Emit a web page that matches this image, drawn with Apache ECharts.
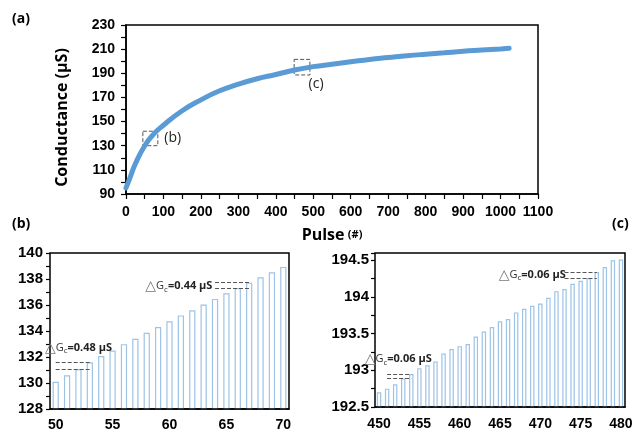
<!DOCTYPE html>
<html>
<head>
<meta charset="utf-8">
<script src="https://cdn.jsdelivr.net/npm/echarts@6/dist/echarts.min.js"></script>
<style>
  html, body { margin: 0; padding: 0; background: #fff; }
  #chart { width: 636px; height: 432px; }
</style>
</head>
<body>
<div id="chart"></div>
<script>
// (a) 全程曲线，读图估值
var pulseA = [0, 10, 25, 50, 75, 100, 150, 200, 250, 300, 350, 400, 450, 500, 550, 600, 650, 700, 750, 800, 850, 900, 950, 1000, 1023];
var condA = [95, 103, 115, 130, 140, 147, 159, 168, 175.5, 181, 185.5, 189, 192.7, 195.5, 197.5, 199.5, 201.5, 203, 204.5, 205.8, 207, 208.2, 209.2, 210.2, 210.7];

// (b) 50~70 脉冲
var pulseB = ['50', '51', '52', '53', '54', '55', '56', '57', '58', '59', '60', '61', '62', '63', '64', '65', '66', '67', '68', '69', '70'];
var condB = [130.1, 130.6, 131.07, 131.6, 132.07, 132.5, 132.99, 133.4, 133.86, 134.3, 134.75, 135.2, 135.6, 136.03, 136.47, 136.9, 137.3, 137.72, 138.13, 138.52, 138.93];

// (c) 450~480 脉冲
var pulseC = ['450', '451', '452', '453', '454', '455', '456', '457', '458', '459', '460', '461', '462', '463', '464', '465', '466', '467', '468', '469', '470', '471', '472', '473', '474', '475', '476', '477', '478', '479', '480'];
var condC = [192.7, 192.75, 192.81, 192.89, 192.95, 193.03, 193.07, 193.12, 193.23, 193.29, 193.33, 193.36, 193.46, 193.53, 193.59, 193.67, 193.7, 193.79, 193.84, 193.88, 193.91, 193.99, 194.08, 194.11, 194.18, 194.22, 194.26, 194.34, 194.41, 194.5, 194.51];

var chart = echarts.init(document.getElementById('chart'));

var tickFont = { fontFamily: 'Liberation Sans', fontWeight: 'bold', fontSize: 14, color: '#000' };
var boxLine = { lineStyle: { color: '#000', width: 1.5 } };
var gcRich = {
    t: { fontSize: 14, color: '#777', fontFamily: 'DejaVu Sans' },
    g: { fontSize: 11, color: '#333', fontFamily: 'Open Sans' },
    s: { fontSize: 8, color: '#333', fontFamily: 'Open Sans', verticalAlign: 'bottom', padding: [4, 0, 0, 0] },
    b: { fontSize: 11, color: '#222', fontWeight: 'bold', fontFamily: 'Open Sans' }
};
function gcLabel(txt) {
    return '{t|△}{g|G}{s|c}{b|=' + txt + ' µS}';
}
var dash = { type: 'dashed', color: '#555', width: 1 };
function plain(v) { return String(v); }

var option = {
    animation: false,
    backgroundColor: '#fff',
    graphic: [
        { type: 'text', left: 12, top: 12, style: { text: '(a)', font: 'bold 14px "Open Sans"', fill: '#000' } },
        { type: 'text', left: 12, top: 217, style: { text: '(b)', font: 'bold 14px "Open Sans"', fill: '#000' } },
        { type: 'text', left: 612, top: 217, style: { text: '(c)', font: 'bold 14px "Open Sans"', fill: '#000' } }
    ],
    grid: [
        { left: 126, right: 98, top: 25, bottom: 238, show: true, borderColor: '#000', borderWidth: 1.5 },
        { left: 50, right: 347, top: 253, bottom: 23, show: true, borderColor: '#000', borderWidth: 1.5 },
        { left: 375, right: 11, top: 253, bottom: 25, show: true, borderColor: '#000', borderWidth: 1.5 }
    ],
    xAxis: [
        {
            gridIndex: 0, type: 'value', min: 0, max: 1100, interval: 100,
            name: '{p|Pulse} {h|(#)}', nameLocation: 'middle', nameGap: 33,
            nameTextStyle: {
                rich: {
                    p: { fontFamily: 'Open Sans', fontWeight: 'bold', fontSize: 16, color: '#000' },
                    h: { fontFamily: 'Open Sans', fontWeight: 'bold', fontSize: 11, color: '#000' }
                }
            },
            axisLine: boxLine,
            axisTick: { show: true, length: 5, lineStyle: { color: '#000', width: 1.2 } },
            minorTick: { show: true, splitNumber: 2, length: 5, lineStyle: { color: '#000', width: 1.2 } },
            axisLabel: Object.assign({ margin: 11, formatter: plain }, tickFont),
            splitLine: { show: false }
        },
        {
            gridIndex: 1, type: 'category', data: pulseB, z: 5,
            axisLine: boxLine,
            axisTick: { show: false },
            axisLabel: Object.assign({ interval: 4, margin: 9 }, tickFont),
            splitLine: { show: false }
        },
        {
            gridIndex: 2, type: 'category', data: pulseC, z: 5,
            axisLine: boxLine,
            axisTick: { show: false },
            axisLabel: Object.assign({ interval: 4, margin: 10 }, tickFont),
            splitLine: { show: false }
        }
    ],
    yAxis: [
        {
            gridIndex: 0, type: 'value', min: 90, max: 230, interval: 20,
            name: 'Conductance (µS)', nameLocation: 'middle', nameGap: 56,
            nameTextStyle: { fontFamily: 'Open Sans', fontWeight: 'bold', fontSize: 16, color: '#000', padding: [0, 16, 0, 0] },
            axisLine: boxLine,
            axisTick: { show: true, length: 5, lineStyle: { color: '#000', width: 1.2 } },
            minorTick: { show: true, splitNumber: 2, length: 5, lineStyle: { color: '#000', width: 1.2 } },
            axisLabel: Object.assign({ margin: 11, formatter: plain }, tickFont),
            splitLine: { show: false }
        },
        {
            gridIndex: 1, type: 'value', min: 128, max: 140, interval: 2,
            axisLine: boxLine,
            axisTick: { show: true, length: 4, lineStyle: { color: '#000', width: 1.2 } },
            minorTick: { show: true, splitNumber: 2, length: 4, lineStyle: { color: '#000', width: 1.2 } },
            axisLabel: Object.assign({ margin: 7 }, tickFont, { fontSize: 15 }),
            splitLine: { show: false }
        },
        {
            gridIndex: 2, type: 'value', min: 192.5, max: 194.6, interval: 0.5,
            axisLine: boxLine,
            axisTick: { show: true, length: 4, lineStyle: { color: '#000', width: 1.2 } },
            minorTick: { show: true, splitNumber: 2, length: 4, lineStyle: { color: '#000', width: 1.2 } },
            axisLabel: Object.assign({ margin: 6, showMaxLabel: false }, tickFont, { fontSize: 15 }),
            splitLine: { show: false }
        }
    ],
    series: [
        {
            type: 'line', xAxisIndex: 0, yAxisIndex: 0,
            data: pulseA.map(function (p, i) { return [p, condA[i]]; }),
            smooth: true, showSymbol: false,
            lineStyle: { color: '#5b9bd5', width: 5, cap: 'round' },
            markArea: {
                silent: true,
                itemStyle: { color: 'rgba(0,0,0,0)', borderColor: '#555', borderWidth: 1, borderType: 'dashed' },
                label: { fontFamily: 'Open Sans', fontSize: 14, color: '#222' },
                data: [
                    [{ coord: [45, 142], label: { show: true, formatter: '(b)', position: 'right', distance: 6 } }, { coord: [85, 130] }],
                    [{ coord: [449, 201.5], label: { show: true, formatter: '(c)', position: 'bottom', distance: 2, offset: [14, 0] } }, { coord: [491, 188.6] }]
                ]
            }
        },
        {
            type: 'bar', xAxisIndex: 1, yAxisIndex: 1,
            data: condB, barWidth: '55%',
            itemStyle: { color: '#fff', borderColor: '#9dc3e6', borderWidth: 1.2 },
            markLine: {
                silent: true, symbol: 'none', label: { show: false },
                lineStyle: dash,
                data: [
                    [{ coord: [0, 131.58] }, { coord: [3, 131.58] }],
                    [{ coord: [0, 131.04] }, { coord: [3, 131.04] }],
                    [{ coord: [14, 137.75] }, { coord: [17, 137.75] }],
                    [{ coord: [14, 137.26] }, { coord: [17, 137.26] }]
                ]
            },
            markPoint: {
                silent: true, symbol: 'circle', symbolSize: 0,
                label: { show: true, position: 'inside', rich: gcRich },
                data: [
                    { coord: [2, 132.7], label: { formatter: gcLabel('0.48') } },
                    { coord: [11, 137.44], label: { formatter: gcLabel('0.44'), offset: [-2, 0] } }
                ]
            }
        },
        {
            type: 'bar', xAxisIndex: 2, yAxisIndex: 2,
            data: condC, barWidth: '55%',
            itemStyle: { color: '#fff', borderColor: '#9dc3e6', borderWidth: 1.2 },
            markLine: {
                silent: true, symbol: 'none', label: { show: false },
                lineStyle: dash,
                data: [
                    [{ coord: [1, 192.95] }, { coord: [4, 192.95] }],
                    [{ coord: [1, 192.89] }, { coord: [4, 192.89] }],
                    [{ coord: [23, 194.34] }, { coord: [27, 194.34] }],
                    [{ coord: [23, 194.26] }, { coord: [27, 194.26] }]
                ]
            },
            markPoint: {
                silent: true, symbol: 'circle', symbolSize: 0,
                label: { show: true, position: 'inside', rich: gcRich },
                data: [
                    { coord: [2, 193.15], label: { formatter: gcLabel('0.06'), offset: [3, 0] } },
                    { coord: [19, 194.3], label: { formatter: gcLabel('0.06') } }
                ]
            }
        }
    ]
};
chart.setOption(option);
</script>
</body>
</html>
